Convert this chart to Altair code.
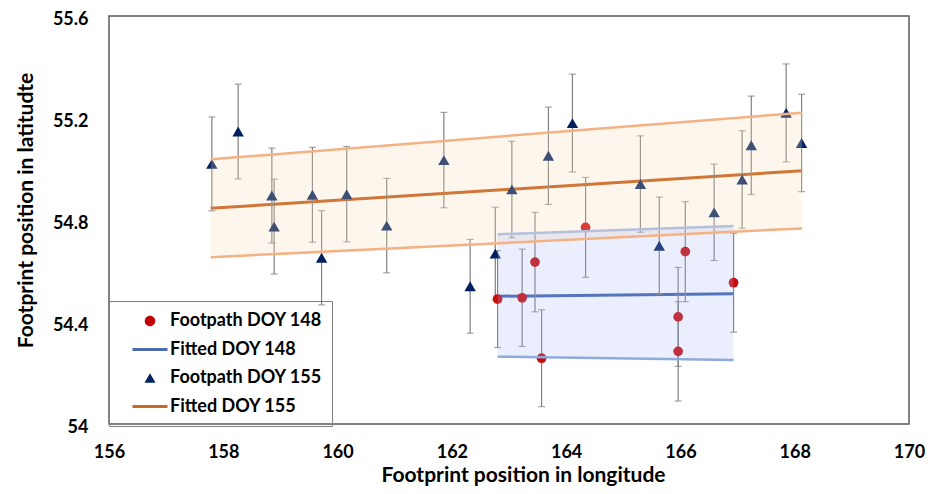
import altair as alt
import pandas as pd

# ---- data ----
lon155 = [157.80, 158.26, 158.85, 158.89, 159.56, 159.72, 160.16, 160.86, 161.86, 162.32, 162.76,
          163.05, 163.69, 164.11, 165.30, 165.63, 166.59, 167.08, 167.24, 167.85, 168.12]
lat155 = [55.020, 55.147, 54.896, 54.774, 54.899, 54.652, 54.901, 54.778, 55.035, 54.540, 54.668,
          54.920, 55.052, 55.180, 54.941, 54.699, 54.830, 54.959, 55.093, 55.220, 55.102]
err155 = [0.184, 0.186, 0.186, 0.186, 0.186, 0.185, 0.187, 0.185, 0.187, 0.184, 0.182,
          0.189, 0.191, 0.192, 0.189, 0.191, 0.189, 0.191, 0.193, 0.192, 0.191]

lon148 = [162.80, 163.23, 163.455, 163.57, 164.34, 165.96, 165.96, 166.085, 166.93]
lat148 = [54.490, 54.495, 54.635, 54.258, 54.771, 54.420, 54.285, 54.676, 54.554]
err148 = [0.190, 0.191, 0.195, 0.190, 0.196, 0.194, 0.195, 0.196, 0.194]

fit155_lon = [157.78, 168.13]
fit155_mid = [54.846, 54.993]
fit155_up = [55.038, 55.221]
fit155_lo = [54.654, 54.767]

fit148_lon = [162.80, 166.93]
fit148_mid = [54.501, 54.511]
fit148_up = [54.744, 54.776]
fit148_lo = [54.264, 54.251]

series = ["Footpath DOY 148", "Fitted DOY 148", "Footpath DOY 155", "Fitted DOY 155"]
x_ticks = [156, 158, 160, 162, 164, 166, 168, 170]
y_ticks = [54, 54.4, 54.8, 55.2, 55.6]

# ---- styling ----
FONT = "Lato"
RED = "#C80A0A"
NAVY = "#002060"
BAR = "#7F7F7F"

p155 = pd.DataFrame({"lon": lon155, "lat": lat155, "err": err155})
p155["lo"] = p155["lat"] - p155["err"]
p155["hi"] = p155["lat"] + p155["err"]
p148 = pd.DataFrame({"lon": lon148, "lat": lat148, "err": err148})
p148["lo"] = p148["lat"] - p148["err"]
p148["hi"] = p148["lat"] + p148["err"]
f155 = pd.DataFrame({"lon": fit155_lon, "mid": fit155_mid, "up": fit155_up, "lo": fit155_lo})
f148 = pd.DataFrame({"lon": fit148_lon, "mid": fit148_mid, "up": fit148_up, "lo": fit148_lo})
leg = pd.DataFrame({"series": series})

xs = alt.Scale(domain=[156, 170], nice=False, zero=False)
ys = alt.Scale(domain=[54, 55.6], nice=False, zero=False)

x_axis = alt.Axis(values=x_ticks, title="Footprint position in longitude", grid=False, domain=False,
                  ticks=False, tickSize=0, labelFont=FONT, labelFontSize=18, labelFontWeight="bold",
                  labelColor="#000000", labelPadding=33, labelBaseline="alphabetic", labelFlush=False,
                  labelOverlap=False, titleFont=FONT, titleFontSize=21, titleFontWeight="bold",
                  titleColor="#000000", titleX=414, titleY=57, titleBaseline="alphabetic")
y_axis = alt.Axis(values=y_ticks, format=".1~f", title="Footprint position in latitudte", grid=False,
                  domain=False, ticks=False, tickSize=0, labelFont=FONT, labelFontSize=18,
                  labelFontWeight="bold", labelColor="#000000", labelPadding=21, labelOverlap=False,
                  labelBaseline="alphabetic", labelOffset=8.5,
                  titleFont=FONT, titleFontSize=21, titleFontWeight="bold", titleColor="#000000",
                  titleX=-77, titleY=194, titleBaseline="alphabetic")


def X():
    return alt.X("lon:Q", scale=xs, axis=x_axis)


def Y(field):
    return alt.Y(f"{field}:Q", scale=ys, axis=y_axis)


def line(df, field, color, width):
    return alt.Chart(df).mark_line(color=color, strokeWidth=width).encode(x=X(), y=Y(field))


def errbars(df):
    rule = alt.Chart(df).mark_rule(color=BAR, strokeWidth=1.2).encode(x=X(), y=Y("lo"), y2="hi:Q")
    cap_lo = alt.Chart(df).mark_tick(color=BAR, orient="horizontal", size=7, thickness=1.2).encode(
        x=X(), y=Y("lo"))
    cap_hi = alt.Chart(df).mark_tick(color=BAR, orient="horizontal", size=7, thickness=1.2).encode(
        x=X(), y=Y("hi"))
    return [rule, cap_lo, cap_hi]


def band(df, color, opacity):
    return alt.Chart(df).mark_area(color=color, opacity=opacity).encode(x=X(), y=Y("up"), y2="lo:Q")


mid155 = line(f155, "mid", "#C3540E", 3)
mid148 = line(f148, "mid", "#3A62AC", 3)

pts155 = alt.Chart(p155).mark_point(shape="triangle-up", filled=True, size=130, color=NAVY, opacity=1).encode(
    x=X(), y=Y("lat"))
pts148 = alt.Chart(p148).mark_point(shape="circle", filled=True, size=95, color=RED, opacity=1).encode(
    x=X(), y=Y("lat"))

band155 = band(f155, "#F7DBB3", 0.25)
band148 = band(f148, "#A9B5F0", 0.23)

up155 = line(f155, "up", "#F4B183", 2.5)
lo155 = line(f155, "lo", "#F4B183", 2.5)
up148 = line(f148, "up", "#B4C0DC", 2.5)
lo148 = line(f148, "lo", "#8FAADC", 2.5)

# legend glyphs (custom shapes scaled by sqrt(size)/2 = 10)
CIRCLE = "M-0.525,0A0.525,0.525,0,1,0,0.525,0A0.525,0.525,0,1,0,-0.525,0Z"
LINE = "M-1.75,-0.15H1.75V0.15H-1.75Z"
TRI = "M0,-0.475L0.55,0.475L-0.55,0.475Z"
legend_spec = alt.Legend(title=None, orient="none", legendX=0, legendY=285, direction="vertical",
                         labelFont=FONT, labelFontSize=18, labelFontWeight="bold", labelColor="#000000",
                         symbolSize=400, symbolStrokeWidth=0, symbolOpacity=1, symbolOffset=21,
                         labelOffset=10, padding=10, rowPadding=9.5, strokeColor="#7F7F7F",
                         labelLimit=300)
legend_layer = alt.Chart(leg).mark_point(filled=True, opacity=0).encode(
    x=alt.value(0), y=alt.value(0),
    color=alt.Color("series:N", scale=alt.Scale(domain=series, range=["#C00000", "#4A6CAE", NAVY, "#C8692A"]),
                    legend=legend_spec),
    shape=alt.Shape("series:N", scale=alt.Scale(domain=series, range=[CIRCLE, LINE, TRI, LINE]),
                    legend=legend_spec),
)

chart = alt.layer(
    mid155, mid148,
    *errbars(p155), *errbars(p148),
    pts155, pts148,
    band155, band148,
    up155, lo155, up148, lo148,
    legend_layer,
).properties(
    width=800, height=408,
    padding={"left": 101, "top": 8, "right": 16, "bottom": 62},
    autosize=alt.AutoSizeParams(type="none"),
).configure_view(stroke="#595959", strokeWidth=1.5)

chart.save("out.html", embed_options={"renderer": "svg", "actions": False})
